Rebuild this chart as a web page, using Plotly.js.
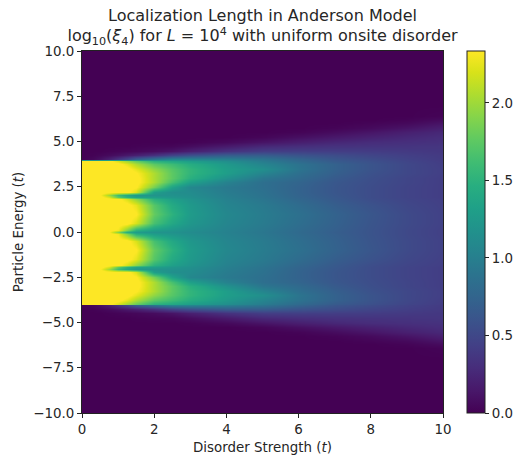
<!DOCTYPE html>
<html><head><meta charset="utf-8">
<script src="https://cdn.plot.ly/plotly-3.0.1.min.js"></script>
<style>html,body{margin:0;padding:0;background:#fff}</style></head>
<body><div id="g" style="width:518px;height:456px"></div>
<script>
const disorder = [0,.3,.5,.75,1,1.25,1.5,2,2.5,3,4,5,6,7,8,9,10];
const energy = [-10,-7,-6.4,-6.2,-6,-5.75,-5.5,-5.25,-5,-4.75,-4.5,-4.25,-4.05,-3.95,-3.75,-3.5,-3.25,-3,-2.75,-2.5,-2.2,-2.05,-1.95,-1.83,-1.5,-1,-.5,-.12,0,.12,.5,1,1.5,1.83,1.95,2.05,2.2,2.5,2.75,3,3.25,3.5,3.75,3.95,4.05,4.25,4.5,4.75,5,5.25,5.5,5.75,6,6.2,6.4,7,10];
const logXi = [
[0,0,0,0,0,0,0,0,0,0,0,0,0,0,0,0,0],
[0,0,0,0,0,0,0,0,0,0,0,0,0,0,0,0,0],
[0,0,0,0,0,0,0,0,0,0,0,0,0,0,0,0,.02],
[0,0,0,0,0,0,0,0,0,0,0,0,0,0,0,.02,.07],
[0,0,0,0,0,0,0,0,0,0,0,0,0,0,.02,.05,.12],
[0,0,0,0,0,0,0,0,0,0,0,0,0,.02,.06,.12,.2],
[0,0,0,0,0,0,0,0,0,0,0,0,.02,.07,.13,.2,.26],
[0,0,0,0,0,0,0,0,0,0,0,.03,.09,.15,.21,.26,.3],
[0,0,0,0,0,0,0,0,0,.01,.05,.12,.19,.25,.29,.31,.33],
[0,0,0,0,0,0,.01,.02,.03,.07,.16,.26,.3,.33,.34,.35,.36],
[0,0,0,.01,.02,.03,.04,.07,.12,.2,.33,.42,.43,.42,.41,.39,.37],
[0,.01,.03,.06,.1,.15,.2,.32,.47,.57,.68,.68,.6,.54,.48,.43,.39],
[0,.04,.1,.2,.35,.5,.7,.9,1.05,1.05,1,.9,.75,.62,.54,.46,.4],
[2.4,2.4,2.4,2.4,2.2,2,1.8,1.5,1.4,1.3,1.15,.97,.8,.66,.57,.48,.41],
[2.4,2.4,2.4,2.4,2.4,2.25,2.05,1.75,1.6,1.45,1.25,1.05,.88,.72,.6,.5,.42],
[2.4,2.4,2.4,2.4,2.4,2.4,2.25,1.95,1.72,1.53,1.3,1.15,.9,.72,.6,.5,.43],
[2.4,2.4,2.4,2.4,2.4,2.4,2.35,2.05,1.75,1.53,1.3,1.05,.85,.7,.58,.5,.43],
[2.4,2.4,2.4,2.4,2.4,2.4,2.4,2.05,1.75,1.48,1.18,.92,.8,.66,.56,.48,.42],
[2.4,2.4,2.4,2.4,2.4,2.4,2.4,2.05,1.65,1.32,1.03,.85,.75,.63,.55,.48,.42],
[2.4,2.4,2.4,2.4,2.4,2.4,2.35,1.85,1.35,1.08,.95,.85,.73,.62,.54,.47,.42],
[2.4,2.4,2.4,2.4,2.4,2.4,2.2,1.3,1.15,1.12,.97,.87,.73,.62,.54,.47,.42],
[2.4,2.4,2.35,2,1.6,1.4,1.25,1.2,1.18,1.14,.99,.88,.74,.63,.54,.47,.42],
[2.4,2.4,2.4,2.2,1.75,1.5,1.35,1.3,1.22,1.16,1,.89,.75,.64,.54,.47,.42],
[2.4,2.4,2.4,2.4,2.4,2.2,1.95,1.5,1.32,1.2,1.02,.91,.77,.65,.55,.48,.43],
[2.4,2.4,2.4,2.4,2.4,2.4,2.25,1.72,1.42,1.25,1.05,.95,.82,.69,.59,.5,.44],
[2.4,2.4,2.4,2.4,2.4,2.4,2.35,1.78,1.5,1.27,1.08,.97,.86,.73,.62,.52,.45],
[2.4,2.4,2.4,2.4,2.4,2.4,2.2,1.65,1.4,1.23,1.06,.96,.84,.72,.61,.52,.45],
[2.4,2.4,2.4,2.4,2.3,1.9,1.5,1.3,1.22,1.15,1.03,.93,.81,.7,.6,.51,.44],
[2.4,2.4,2.4,2.35,1.9,1.45,1.28,1.2,1.18,1.12,1.02,.92,.8,.69,.6,.51,.44],
[2.4,2.4,2.4,2.4,2.3,1.9,1.5,1.3,1.22,1.15,1.03,.93,.81,.7,.6,.51,.44],
[2.4,2.4,2.4,2.4,2.4,2.4,2.2,1.65,1.4,1.23,1.06,.96,.84,.72,.61,.52,.45],
[2.4,2.4,2.4,2.4,2.4,2.4,2.35,1.78,1.5,1.27,1.08,.97,.86,.73,.62,.52,.45],
[2.4,2.4,2.4,2.4,2.4,2.4,2.25,1.72,1.42,1.25,1.05,.95,.82,.69,.59,.5,.44],
[2.4,2.4,2.4,2.4,2.4,2.2,1.95,1.5,1.32,1.2,1.02,.91,.77,.65,.55,.48,.43],
[2.4,2.4,2.4,2.2,1.75,1.5,1.35,1.3,1.22,1.16,1,.89,.75,.64,.54,.47,.42],
[2.4,2.4,2.35,2,1.6,1.4,1.25,1.2,1.18,1.14,.99,.88,.74,.63,.54,.47,.42],
[2.4,2.4,2.4,2.4,2.4,2.4,2.2,1.3,1.15,1.12,.97,.87,.73,.62,.54,.47,.42],
[2.4,2.4,2.4,2.4,2.4,2.4,2.35,1.85,1.35,1.08,.95,.85,.73,.62,.54,.47,.42],
[2.4,2.4,2.4,2.4,2.4,2.4,2.4,2.05,1.65,1.32,1.03,.85,.75,.63,.55,.48,.42],
[2.4,2.4,2.4,2.4,2.4,2.4,2.4,2.05,1.75,1.48,1.18,.92,.8,.66,.56,.48,.42],
[2.4,2.4,2.4,2.4,2.4,2.4,2.35,2.05,1.75,1.53,1.3,1.05,.85,.7,.58,.5,.43],
[2.4,2.4,2.4,2.4,2.4,2.4,2.25,1.95,1.72,1.53,1.3,1.15,.9,.72,.6,.5,.43],
[2.4,2.4,2.4,2.4,2.4,2.25,2.05,1.75,1.6,1.45,1.25,1.05,.88,.72,.6,.5,.42],
[2.4,2.4,2.4,2.4,2.2,2,1.8,1.5,1.4,1.3,1.15,.97,.8,.66,.57,.48,.41],
[0,.04,.1,.2,.35,.5,.7,.9,1.05,1.05,1,.9,.75,.62,.54,.46,.4],
[0,.01,.03,.06,.1,.15,.2,.32,.47,.57,.68,.68,.6,.54,.48,.43,.39],
[0,0,0,.01,.02,.03,.04,.07,.12,.2,.33,.42,.43,.42,.41,.39,.37],
[0,0,0,0,0,0,.01,.02,.03,.07,.16,.26,.3,.33,.34,.35,.36],
[0,0,0,0,0,0,0,0,0,.01,.05,.12,.19,.25,.29,.31,.33],
[0,0,0,0,0,0,0,0,0,0,0,.03,.09,.15,.21,.26,.3],
[0,0,0,0,0,0,0,0,0,0,0,0,.02,.07,.13,.2,.26],
[0,0,0,0,0,0,0,0,0,0,0,0,0,.02,.06,.12,.2],
[0,0,0,0,0,0,0,0,0,0,0,0,0,0,.02,.05,.12],
[0,0,0,0,0,0,0,0,0,0,0,0,0,0,0,.02,.07],
[0,0,0,0,0,0,0,0,0,0,0,0,0,0,0,0,.02],
[0,0,0,0,0,0,0,0,0,0,0,0,0,0,0,0,0],
[0,0,0,0,0,0,0,0,0,0,0,0,0,0,0,0,0]
];
const xTicks = [0,2,4,6,8,10];
const xLabels = ['0','2','4','6','8','10'];
const yTicks = [-10,-7.5,-5,-2.5,0,2.5,5,7.5,10];
const yLabels = ['\u221210.0','\u22127.5','\u22125.0','\u22122.5','0.0','2.5','5.0','7.5','10.0'];
const cbTicks = [0,.5,1,1.5,2];
const cbLabels = ['0.0','0.5','1.0','1.5','2.0'];
const FONT = 'DejaVu Sans, sans-serif';
const INK = '#262626';
Plotly.newPlot('g',[{
  type:'heatmap', x:disorder, y:energy, z:logXi, zmin:0, zmax:2.335, zsmooth:'best',
  colorscale:'Viridis', hoverinfo:'skip',
  colorbar:{x:1.0665,xanchor:'left',xpad:0,ypad:0,y:0,yanchor:'bottom',len:1,thickness:18,
    outlinewidth:1,outlinecolor:'#222',tickmode:'array',tickvals:cbTicks,ticktext:cbLabels,
    ticks:'outside',ticklen:4,tickwidth:1,tickcolor:'#222',tickfont:{family:FONT,size:13.4,color:INK}}
}],{
  width:518,height:456,margin:{l:82,r:75,t:51,b:43,autoexpand:false},paper_bgcolor:'#fff',plot_bgcolor:'#fff',
  title:{text:'Localization Length in Anderson Model<br>log<sub>10</sub>(<i>ξ</i><sub>4</sub>) for <i>L</i> = 10<sup>4</sup> with uniform onsite disorder',
    font:{family:FONT,size:16,color:INK},x:0.5,xref:'paper',xanchor:'center',y:0.955,yanchor:'top'},
  xaxis:{range:[0,10],tickmode:'array',tickvals:xTicks,ticktext:xLabels,ticks:'outside',ticklen:4,tickwidth:1,tickcolor:'#222',
    showline:true,mirror:true,linecolor:'#222',linewidth:1,showgrid:false,zeroline:false,tickfont:{family:FONT,size:13.4,color:INK},
    title:{text:'Disorder Strength (<i>t</i>)',font:{family:FONT,size:13.4,color:INK},standoff:6}},
  yaxis:{range:[-10,10],tickmode:'array',tickvals:yTicks,ticktext:yLabels,ticks:'outside',ticklen:4,tickwidth:1,tickcolor:'#222',
    showline:true,mirror:true,linecolor:'#222',linewidth:1,showgrid:false,zeroline:false,tickfont:{family:FONT,size:13.4,color:INK},
    title:{text:'Particle Energy (<i>t</i>)',font:{family:FONT,size:13.4,color:INK},standoff:6}}
},{displayModeBar:false,staticPlot:true});
</script></body></html>
